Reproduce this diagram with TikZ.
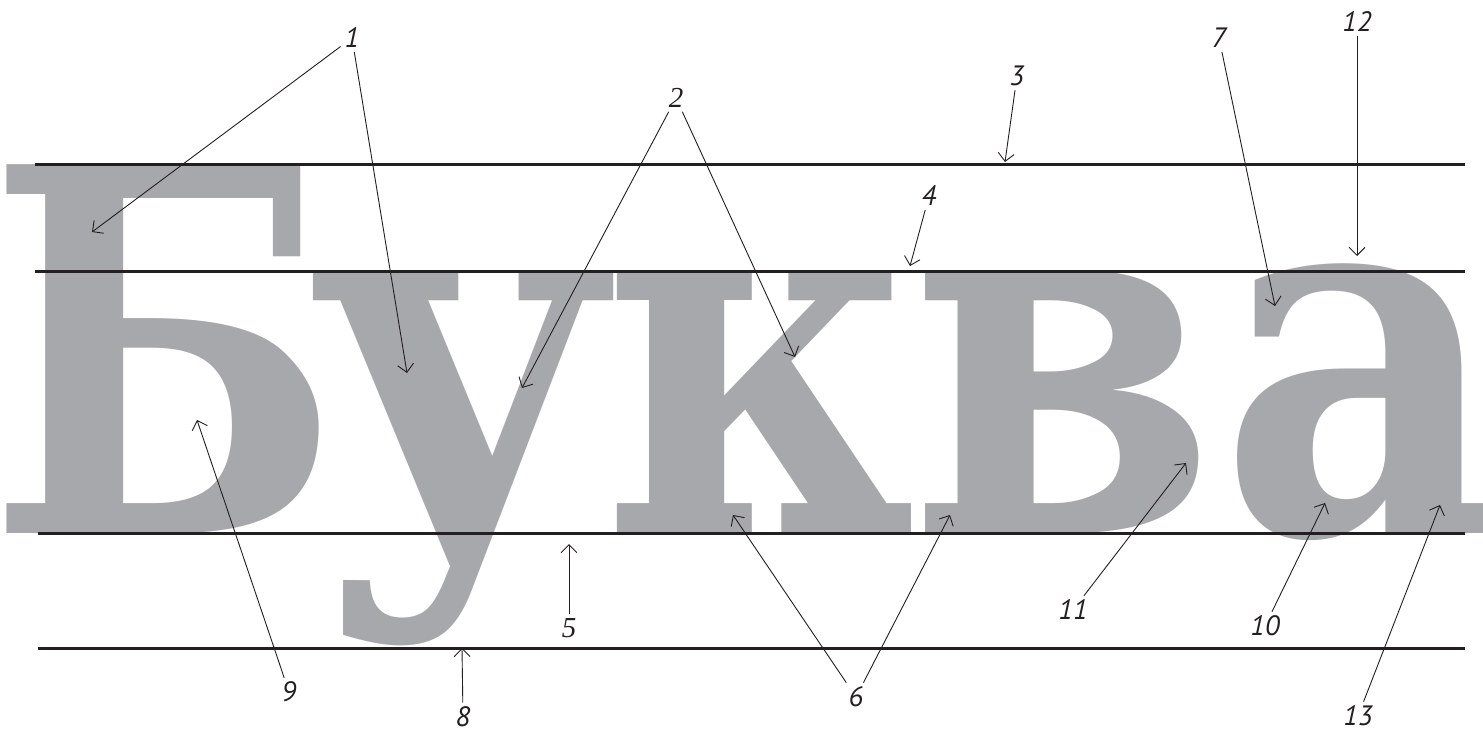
\documentclass[tikz,border=0pt]{standalone}
\usepackage{fontspec}
\usepackage{graphicx}
\usetikzlibrary{arrows.meta}
\newfontfamily\letterfont{DejaVu Serif}
\newfontfamily\labelfont{PT Sans}
\newfontfamily\labelserif{Liberation Serif}
\definecolor{glyphgray}{HTML}{A7A8AC}
\definecolor{rulecol}{HTML}{231F20}
\begin{document}
\begin{tikzpicture}[x=1pt,y=-1pt,
  glyph/.style={inner sep=0pt,outer sep=0pt,anchor=base,text=glyphgray,font=\letterfont\bfseries\fontsize{506}{506}\selectfont},
  guide/.style={draw=rulecol,line width=3pt},
  num/.style={inner sep=4pt,font=\labelfont\itshape\fontsize{28}{28}\selectfont,text=rulecol},
  numserif/.style={num,font=\labelserif\itshape\fontsize{29}{29}\selectfont},
  pointer/.style={draw=rulecol,line width=0.9pt,-{Straight Barb[length=8pt,width=16pt]}}]
\useasboundingbox (0,0) rectangle (1483,731);
% letters
\node[glyph] (gB) at (165,533) {\scalebox{0.82}[1]{Б}};
\node[glyph] (gu) at (463,533) {\scalebox{0.96}[1]{у}};
\node[glyph] (gk) at (760,533) {\scalebox{0.86}[1]{к}};
\node[glyph] (gv) at (1063,533) {\scalebox{0.87}[1]{в}};
\node[glyph] (ga) at (1362,533) {\scalebox{0.87}[1]{а}};
% guide lines
\coordinate (r1a) at (35,164); \coordinate (r1b) at (1465,164);
\coordinate (r2a) at (35,271); \coordinate (r2b) at (1465,271);
\coordinate (r3a) at (38,533); \coordinate (r3b) at (1465,533);
\coordinate (r4a) at (38,648); \coordinate (r4b) at (1465,648);
\draw[guide] (r1a) -- (r1b);
\draw[guide] (r2a) -- (r2b);
\draw[guide] (r3a) -- (r3b);
\draw[guide] (r4a) -- (r4b);
% labels
\node[num] (n1) at (352,38) {1};
\node[numserif] (n2) at (676,98) {2};
\node[num] (n3) at (1017,76) {3};
\node[num] (n4) at (929,196) {4};
\node[numserif] (n5) at (569,628) {5};
\node[num] (n6) at (856,697) {6};
\node[num] (n7) at (1219,38) {7};
\node[num] (n8) at (463,717) {8};
\node[num] (n9) at (289,692) {9};
\node[num] (n10) at (1265,626) {10};
\node[num] (n11) at (1073,610) {11};
\node[num] (n12) at (1357,22) {12};
\node[num] (n13) at (1358,716) {13};
% targets
\coordinate (t1a) at (92,232);
\coordinate (t1b) at (407,373);
\coordinate (t2a) at (522,388);
\coordinate (t2b) at (795,357);
\coordinate (t3) at (1005,162);
\coordinate (t4) at (910,266);
\coordinate (t5) at (569,544);
\coordinate (t6a) at (733,515);
\coordinate (t6b) at (950,515);
\coordinate (t7) at (1275,306);
\coordinate (t8) at (462,648);
\coordinate (t9) at (197,420);
\coordinate (t10) at (1325,503);
\coordinate (t11) at (1186,463);
\coordinate (t12) at (1357,256);
\coordinate (t13) at (1440,505);
% pointers
\draw[pointer] (n1) -- (t1a);
\draw[pointer] (n1) -- (t1b);
\draw[pointer] (n2) -- (t2a);
\draw[pointer] (n2) -- (t2b);
\draw[pointer] (n3) -- (t3);
\draw[pointer] (n4) -- (t4);
\draw[pointer] (n5) -- (t5);
\draw[pointer] (n6) -- (t6a);
\draw[pointer] (n6) -- (t6b);
\draw[pointer] (n7) -- (t7);
\draw[pointer] (n8) -- (t8);
\draw[pointer] (n9) -- (t9);
\draw[pointer] (n10) -- (t10);
\draw[pointer] (n11) -- (t11);
\draw[pointer] (n12) -- (t12);
\draw[pointer] (n13) -- (t13);
\end{tikzpicture}
\end{document}
